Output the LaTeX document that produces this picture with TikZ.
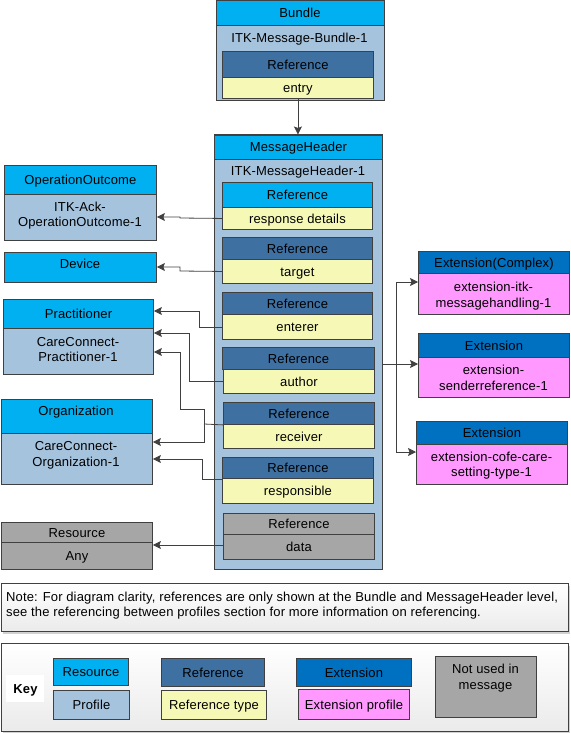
\documentclass[tikz,border=0pt]{standalone}
\usepackage{fontspec}
\setmainfont[LetterSpace=1.1]{Liberation Sans}
\usetikzlibrary{arrows.meta}
\definecolor{cres}{HTML}{00B0F0}
\definecolor{cprof}{HTML}{A6C3DE}
\definecolor{cref}{HTML}{3E70A2}
\definecolor{cyel}{HTML}{F6F9B6}
\definecolor{cext}{HTML}{0070C0}
\definecolor{cpink}{HTML}{FF99FF}
\definecolor{cgray}{HTML}{A6A6A6}
\definecolor{cline}{HTML}{404040}
\newcommand\bxc[7]{%
 \pgfmathsetmacro\bxw{#4-#2}\pgfmathsetmacro\bxh{#5-#3}%
 \node[boxs,#6,minimum width=\bxw pt,minimum height=\bxh pt,anchor=north west] (#1) at (#2,#3) {#7};}
\newcommand\tl[4]{\node[tline] (#1) at (#2,#3) {#4};}
\begin{document}
\begin{tikzpicture}[x=1pt,y=-1pt,
  boxs/.style={draw=cline,line width=0.9pt,rectangle,inner sep=0pt,
    font=\fontsize{13}{15}\selectfont,text height=9.3pt,text depth=0pt},
  tline/.style={anchor=base,inner sep=0pt,yshift=-4.6pt,font=\fontsize{13}{15}\selectfont},
  nline/.style={anchor=base west,inner sep=0pt,yshift=-4.6pt,font=\fontsize{13}{15}\selectfont},
  notefill/.style={top color=white,bottom color=black!8},
  shadowbox/.style={fill=black!18,draw=none},
  link/.style={draw=cline,line width=0.8pt},
  conn/.style={link,-{Stealth[length=8pt,width=8pt,inset=1.5pt]}}]
\useasboundingbox (0,0) rectangle (570,733);

% Bundle
\bxc{bundle}{215.5}{0.5}{383.5}{100}{fill=cprof}{}
\bxc{bundleH}{215.5}{0.5}{383.5}{25}{fill=cres}{Bundle}
\tl{bundleP}{299.5}{38}{ITK-Message-Bundle-1}
\bxc{bRefH}{222}{51}{373}{77}{fill=cref}{Reference}
\bxc{bRefB}{222}{77}{373}{98}{fill=cyel}{entry}

% MessageHeader
\bxc{mh}{214}{134.5}{382}{569}{fill=cprof}{}
\bxc{mhH}{214}{134.5}{382}{159}{fill=cres}{MessageHeader}
\tl{mhP}{298}{171}{ITK-MessageHeader-1}
\bxc{r1H}{222}{182}{372}{207}{fill=cres}{Reference}
\bxc{r1B}{222}{207}{372}{229}{fill=cyel}{response details}
\bxc{r2H}{222}{237}{372}{259}{fill=cref}{Reference}
\bxc{r2B}{222}{259}{372}{283}{fill=cyel}{target}
\bxc{r3H}{222}{292}{372}{314}{fill=cref}{Reference}
\bxc{r3B}{222}{314}{372}{339}{fill=cyel}{enterer}
\bxc{r4H}{222}{347}{374}{369}{fill=cref}{Reference}
\bxc{r4B}{223}{369}{374}{393}{fill=cyel}{author}
\bxc{r5H}{223}{402}{374}{424}{fill=cref}{Reference}
\bxc{r5B}{223}{424}{374}{448}{fill=cyel}{receiver}
\bxc{r6H}{222}{457}{373}{478}{fill=cref}{Reference}
\bxc{r6B}{222}{478}{373}{503}{fill=cyel}{responsible}
\bxc{r7H}{223}{513}{374}{534}{fill=cgray}{Reference}
\bxc{r7B}{223}{534}{374}{559}{fill=cgray}{data}

% Left targets
\bxc{ooH}{4}{165}{156}{194}{fill=cres}{OperationOutcome}
\bxc{ooB}{4}{194}{156}{240}{fill=cprof}{}
\tl{ooP1}{80}{207}{ITK-Ack-}
\tl{ooP2}{80}{222}{OperationOutcome-1}
\bxc{dev}{4}{252}{156}{282}{fill=cres}{}
\tl{devT}{80}{264}{Device}
\bxc{prH}{3}{299}{153}{328}{fill=cres}{Practitioner}
\bxc{prB}{3}{328}{153}{374}{fill=cprof}{}
\tl{prP1}{78}{342}{CareConnect-}
\tl{prP2}{78}{357}{Practitioner-1}
\bxc{orgH}{1}{399}{152}{433}{fill=cres}{}
\tl{orgT}{76}{411}{Organization}
\bxc{orgB}{1}{433}{152}{484}{fill=cprof}{}
\tl{orgP1}{76}{446}{CareConnect-}
\tl{orgP2}{76}{462}{Organization-1}
\bxc{resH}{1}{522}{152}{542}{fill=cgray}{Resource}
\bxc{resB}{1}{542}{152}{569}{fill=cgray}{Any}

% Extensions
\bxc{e1H}{418}{251}{569}{273}{fill=cext}{Extension(Complex)}
\bxc{e1B}{418}{273}{569}{314}{fill=cpink}{}
\tl{e1P1}{493.5}{287}{extension-itk-}
\tl{e1P2}{493.5}{303}{messagehandling-1}
\bxc{e2H}{418}{333}{569}{357}{fill=cext}{Extension}
\bxc{e2B}{418}{357}{569}{397}{fill=cpink}{}
\tl{e2P1}{493.5}{370}{extension-}
\tl{e2P2}{493.5}{386}{senderreference-1}
\bxc{e3H}{416}{421}{567}{444}{fill=cext}{Extension}
\bxc{e3B}{416}{444}{567}{484}{fill=cpink}{}
\tl{e3P1}{491.5}{457}{extension-cofe-care-}
\tl{e3P2}{491.5}{472}{setting-type-1}

% Connectors
\draw[conn] (bRefB.south) -- (bRefB.south |- mhH.north);
\draw[conn] (r1B.west) -- (180,218) |- (ooB.east |- 0,217);
\draw[conn] (r2B.west) -- (180,271) |- (dev.east |- 0,267);
\draw[conn] (r3B.west) -| (199,311) -- (prH.east |- 0,311);
\draw[conn] (r4B.west) -| (189,333) -- (prB.east |- 0,333);
\coordinate (rj) at (204,424);
\draw[link] (r5H.south west) -- (rj);
\draw[conn] (rj) |- (180,409) |- (prB.east |- 0,352);
\draw[conn] (rj) |- (orgB.east |- 0,442);
\draw[conn] (r6H.south west) -| (202,459) -- (orgB.east |- 0,459);
\draw[conn] (r7B.west |- 0,545) -- (resB.east |- 0,545);
\coordinate (hub) at (396,364);
\draw[link] (mh.east |- hub) -- (hub);
\draw[conn] (hub) |- (e1B.west |- 0,282);
\draw[conn] (hub) -- (e2B.west |- hub);
\draw[conn] (hub) |- (e3B.west |- 0,452);

% Note
\fill[shadowbox] (3,586) rectangle (570,634);
\bxc{note}{1}{583}{568}{631}{notefill}{}
\node[nline] (noteL1) at (6,597) {Note: For diagram clarity, references are only shown at the Bundle and MessageHeader level,};
\node[nline] (noteL2) at (6,612) {see the referencing between profiles section for more information on referencing.};

% Key
\fill[shadowbox] (3,646) rectangle (570,733);
\bxc{key}{1}{643}{568}{731}{notefill}{}
\bxc{keyL}{6}{675}{44}{702}{draw=none,fill=white,font=\fontsize{13}{15}\selectfont\bfseries}{Key}
\bxc{kRes}{53}{658}{128}{685}{fill=cres}{Resource}
\bxc{kProf}{53}{690}{129}{719}{fill=cprof}{Profile}
\bxc{kRef}{161}{658}{264}{686}{fill=cref}{Reference}
\bxc{kRT}{161}{690}{266}{719}{fill=cyel}{Reference type}
\bxc{kExt}{296}{658}{411}{686}{fill=cext}{Extension}
\bxc{kEP}{298}{689}{409}{719}{fill=cpink}{Extension profile}
\bxc{kNU}{435}{656}{536}{717}{fill=cgray}{}
\tl{kNU1}{485.5}{669}{Not used in}
\tl{kNU2}{485.5}{685}{message}
\end{tikzpicture}
\end{document}
